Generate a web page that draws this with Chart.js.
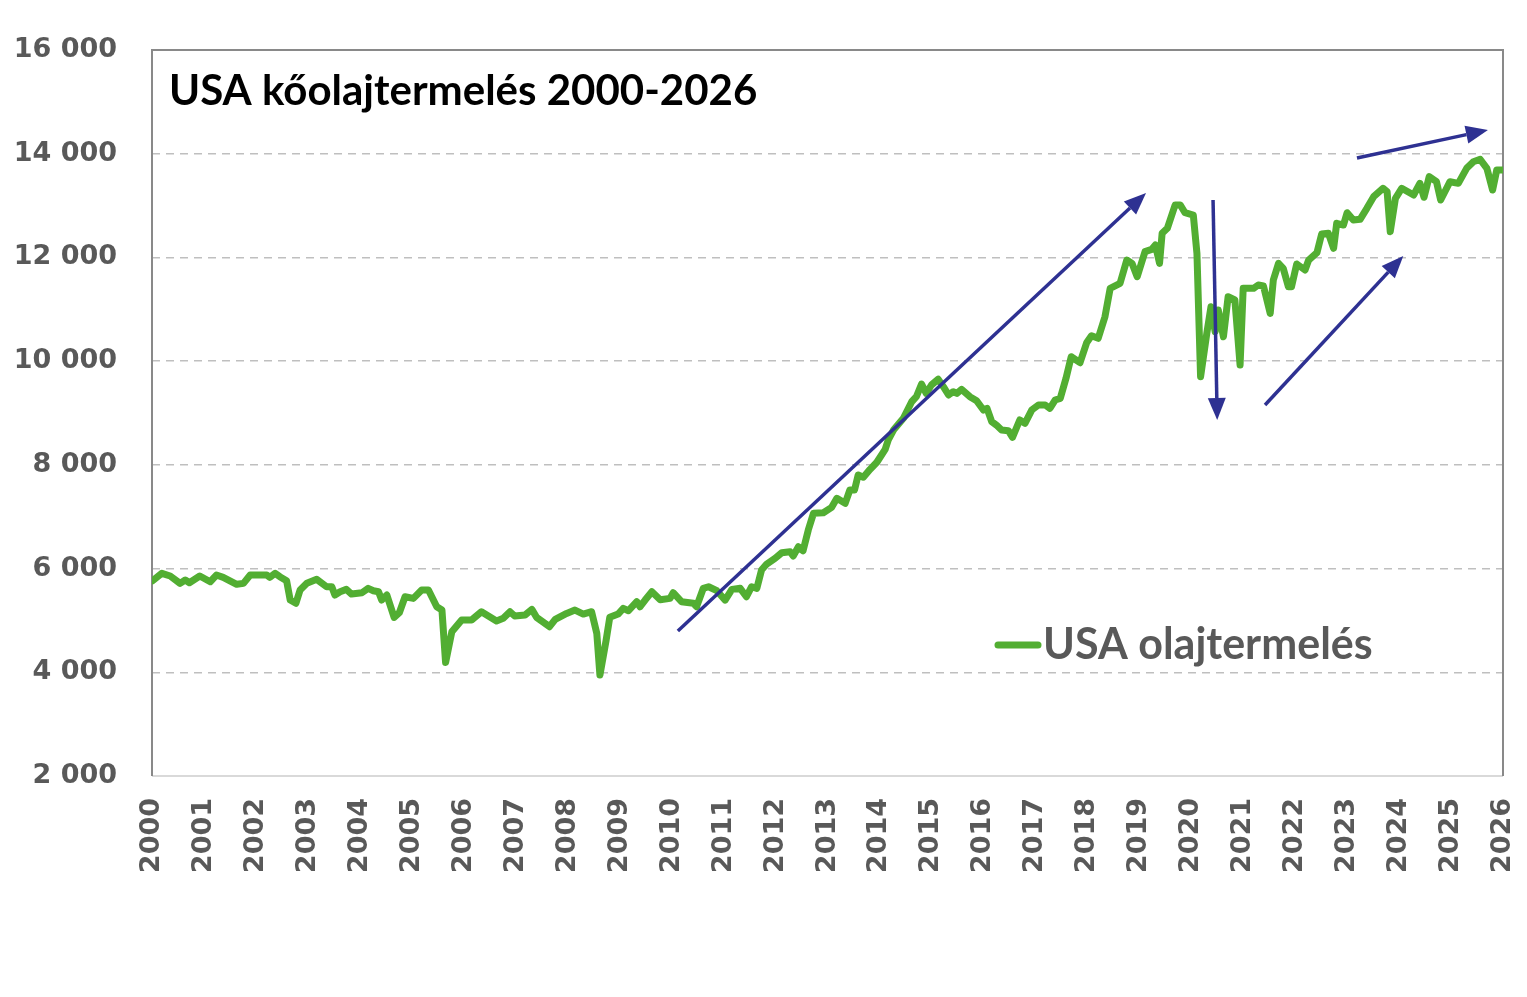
<!DOCTYPE html>
<html>
<head>
<meta charset="utf-8">
<script src="https://cdn.jsdelivr.net/npm/chart.js@4"></script>
<style>
  html, body { margin: 0; padding: 0; background: #fff; }
  canvas { display: block; }
</style>
</head>
<body>
<canvas id="oilChart" width="1527" height="997"></canvas>
<script>
// adatok (ezer hordó/nap), az ábráról leolvasva
const years = [
  2000.01, 2000.19, 2000.35, 2000.54, 2000.64, 2000.72, 2000.92, 2001.12, 2001.24, 2001.37,
  2001.63, 2001.76, 2001.89, 2002.21, 2002.27, 2002.37, 2002.46, 2002.59, 2002.66, 2002.77,
  2002.85, 2002.98, 2003.17, 2003.36, 2003.46, 2003.52, 2003.62, 2003.74, 2003.84, 2004.04,
  2004.16, 2004.26, 2004.36, 2004.42, 2004.52, 2004.66, 2004.76, 2004.87, 2005.03, 2005.19,
  2005.32, 2005.48, 2005.58, 2005.65, 2005.77, 2005.96, 2006.15, 2006.34, 2006.63, 2006.76,
  2006.89, 2006.98, 2007.18, 2007.31, 2007.40, 2007.65, 2007.76, 2007.98, 2008.14, 2008.30,
  2008.46, 2008.56, 2008.62, 2008.74, 2008.81, 2008.97, 2009.07, 2009.17, 2009.33, 2009.39,
  2009.49, 2009.62, 2009.78, 2009.97, 2010.03, 2010.19, 2010.42, 2010.48, 2010.61, 2010.71,
  2010.87, 2011.03, 2011.16, 2011.32, 2011.44, 2011.54, 2011.64, 2011.73, 2011.83, 2011.99,
  2012.12, 2012.28, 2012.34, 2012.44, 2012.53, 2012.63, 2012.73, 2012.92, 2013.08, 2013.18,
  2013.34, 2013.43, 2013.52, 2013.59, 2013.69, 2013.82, 2013.95, 2014.11, 2014.17, 2014.27,
  2014.46, 2014.62, 2014.71, 2014.81, 2014.90, 2015.00, 2015.13, 2015.23, 2015.33, 2015.42,
  2015.49, 2015.58, 2015.74, 2015.87, 2016.00, 2016.07, 2016.16, 2016.25, 2016.35, 2016.48,
  2016.56, 2016.70, 2016.80, 2016.93, 2017.06, 2017.19, 2017.28, 2017.38, 2017.48, 2017.59,
  2017.69, 2017.86, 2017.99, 2018.08, 2018.21, 2018.34, 2018.44, 2018.63, 2018.76, 2018.86,
  2018.96, 2019.11, 2019.24, 2019.31, 2019.39, 2019.44, 2019.54, 2019.69, 2019.79, 2019.88,
  2020.04, 2020.11, 2020.18, 2020.30, 2020.38, 2020.46, 2020.52, 2020.62, 2020.71, 2020.84,
  2020.94, 2021.00, 2021.20, 2021.29, 2021.39, 2021.52, 2021.58, 2021.68, 2021.77, 2021.87,
  2021.93, 2022.03, 2022.19, 2022.26, 2022.42, 2022.51, 2022.64, 2022.74, 2022.80, 2022.93,
  2023.00, 2023.12, 2023.25, 2023.38, 2023.51, 2023.69, 2023.77, 2023.83, 2023.93, 2024.05,
  2024.28, 2024.40, 2024.48, 2024.58, 2024.72, 2024.80, 2024.98, 2025.14, 2025.30, 2025.43,
  2025.56, 2025.69, 2025.80, 2025.88, 2026.00
];
const production = [
  5766, 5908, 5856, 5715, 5779, 5727, 5856, 5746, 5875, 5831,
  5696, 5715, 5875, 5875, 5831, 5908, 5843, 5766, 5393, 5330,
  5586, 5715, 5792, 5650, 5650, 5489, 5553, 5599, 5509, 5534,
  5619, 5573, 5553, 5393, 5489, 5060, 5149, 5457, 5425, 5586,
  5586, 5264, 5200, 4190, 4780, 5010, 5008, 5168, 4989, 5040,
  5168, 5085, 5104, 5213, 5060, 4879, 5021, 5136, 5200, 5123,
  5168, 4751, 3947, 4622, 5060, 5123, 5233, 5187, 5361, 5264,
  5393, 5553, 5400, 5425, 5534, 5361, 5330, 5264, 5619, 5650,
  5573, 5393, 5599, 5619, 5457, 5650, 5619, 5972, 6087, 6197,
  6306, 6325, 6242, 6421, 6344, 6743, 7065, 7077, 7181, 7354,
  7258, 7515, 7515, 7804, 7760, 7914, 8050, 8300, 8480, 8672,
  8897, 9217, 9314, 9559, 9379, 9540, 9650, 9507, 9347, 9410,
  9379, 9457, 9314, 9237, 9057, 9090, 8832, 8768, 8672, 8659,
  8531, 8865, 8801, 9057, 9154, 9154, 9090, 9250, 9283, 9669,
  10085, 9970, 10360, 10490, 10440, 10857, 11404, 11500, 11950, 11886,
  11628, 12111, 12156, 12239, 11886, 12465, 12562, 13011, 13011, 12862,
  12818, 12079, 9700, 10537, 11050, 10568, 10986, 10471, 11242, 11179,
  9925, 11404, 11404, 11468, 11449, 10922, 11564, 11886, 11790, 11436,
  11436, 11873, 11757, 11950, 12091, 12452, 12465, 12176, 12658, 12625,
  12862, 12722, 12735, 12947, 13171, 13333, 13267, 12496, 13140, 13333,
  13204, 13429, 13160, 13557, 13460, 13107, 13460, 13429, 13718, 13846,
  13892, 13718, 13300, 13686, 13686
];
const yTicks = [2000, 4000, 6000, 8000, 10000, 12000, 14000, 16000];
const xTickYears = [2000, 2001, 2002, 2003, 2004, 2005, 2006, 2007, 2008, 2009, 2010, 2011, 2012,
  2013, 2014, 2015, 2016, 2017, 2018, 2019, 2020, 2021, 2022, 2023, 2024, 2025, 2026];

const chartTitle = "USA kőolajtermelés 2000-2026";
const seriesName = "USA olajtermelés";

// nyilak: [év, érték] -> [év, érték]
const trendArrows = [
  [2010.12, 4796, 2019.13, 13242],
  [2020.42, 13107, 2020.50, 8865],
  [2021.42, 9154, 2024.08, 12027],
  [2023.19, 13917, 2025.71, 14457]
];

const GREEN = "#52ae32";
const NAVY = "#2e3192";
const GREY_TEXT = "#595959";

function fmt(v) {
  return String(v).replace(/\B(?=(\d{3})+(?!\d))/g, " ");
}

// keret a rajzterület köré
const framePlugin = {
  id: "frame",
  beforeDatasetsDraw(chart) {
    const { ctx, chartArea: a } = chart;
    ctx.save();
    ctx.lineWidth = 2;
    ctx.strokeStyle = "#d9d9d9";
    ctx.beginPath();
    ctx.moveTo(a.left, a.bottom);
    ctx.lineTo(a.right, a.bottom);
    ctx.stroke();
    ctx.strokeStyle = "#898989";
    ctx.beginPath();
    ctx.moveTo(a.left, a.bottom);
    ctx.lineTo(a.left, a.top);
    ctx.lineTo(a.right, a.top);
    ctx.lineTo(a.right, a.bottom);
    ctx.stroke();
    ctx.restore();
  }
};

const arrowPlugin = {
  id: "arrows",
  afterDatasetsDraw(chart) {
    const { ctx, scales: { x, y } } = chart;
    ctx.save();
    ctx.strokeStyle = NAVY;
    ctx.fillStyle = NAVY;
    ctx.lineWidth = 3.5;
    trendArrows.forEach(([x0, y0, x1, y1]) => {
      const px0 = x.getPixelForValue(x0), py0 = y.getPixelForValue(y0);
      const px1 = x.getPixelForValue(x1), py1 = y.getPixelForValue(y1);
      const ang = Math.atan2(py1 - py0, px1 - px0);
      const headLen = 22, headW = 9;
      const bx = px1 - headLen * Math.cos(ang), by = py1 - headLen * Math.sin(ang);
      ctx.beginPath();
      ctx.moveTo(px0, py0);
      ctx.lineTo(bx, by);
      ctx.stroke();
      ctx.beginPath();
      ctx.moveTo(px1, py1);
      ctx.lineTo(bx + headW * Math.sin(ang), by - headW * Math.cos(ang));
      ctx.lineTo(bx - headW * Math.sin(ang), by + headW * Math.cos(ang));
      ctx.closePath();
      ctx.fill();
    });
    ctx.restore();
  }
};

// cím és jelmagyarázat a rajzterületen belül
const insidePlugin = {
  id: "inside",
  afterDraw(chart) {
    const { ctx, chartArea: a } = chart;
    ctx.save();
    ctx.fillStyle = "#000";
    ctx.font = "bold 42px Lato";
    ctx.textBaseline = "alphabetic";
    ctx.textAlign = "left";
    ctx.fillText(chartTitle, a.left + 17, a.top + 55);

    const ly = a.top + 595;
    ctx.strokeStyle = GREEN;
    ctx.lineWidth = 7;
    ctx.lineCap = "round";
    ctx.beginPath();
    ctx.moveTo(a.left + 846, ly);
    ctx.lineTo(a.left + 886, ly);
    ctx.stroke();
    ctx.fillStyle = GREY_TEXT;
    ctx.font = "bold 43px Lato";
    ctx.textBaseline = "middle";
    ctx.fillText(seriesName, a.left + 891, ly);
    ctx.restore();
  }
};

function initChart() {
  const ctx = document.getElementById("oilChart");
  new Chart(ctx, {
    type: "line",
    data: {
      datasets: [{
        label: seriesName,
        data: years.map((yr, i) => ({ x: yr, y: production[i] })),
        borderColor: GREEN,
        borderWidth: 7,
        borderJoinStyle: "round",
        borderCapStyle: "round",
        pointRadius: 0,
        tension: 0,
        fill: false
      }]
    },
    options: {
      responsive: false,
      animation: false,
      devicePixelRatio: 1,
      layout: { padding: { top: 50, right: 24, left: 0, bottom: 0 } },
      plugins: {
        legend: { display: false },
        title: { display: false },
        tooltip: { enabled: false }
      },
      scales: {
        x: {
          type: "linear",
          min: 2000,
          max: 2026,
          afterBuildTicks(scale) {
            scale.ticks = xTickYears.map(v => ({ value: v }));
          },
          afterFit(scale) {
            scale.height = 221;
            scale.paddingLeft = 0;
            scale.paddingRight = 0;
          },
          grid: { display: false, drawTicks: false },
          border: { display: false },
          ticks: {
            autoSkip: false,
            minRotation: 90,
            maxRotation: 90,
            padding: 22,
            color: GREY_TEXT,
            font: { family: "DejaVu Sans", weight: "bold", size: 27 },
            callback: v => String(v)
          }
        },
        y: {
          min: 2000,
          max: 16000,
          afterBuildTicks(scale) {
            scale.ticks = yTicks.map(v => ({ value: v }));
          },
          afterFit(scale) {
            scale.width = 152;
            scale.paddingTop = 0;
            scale.paddingBottom = 0;
          },
          grid: {
            drawTicks: false,
            lineWidth: 1.5,
            color: c => (c.tick && (c.tick.value === 2000 || c.tick.value === 16000)) ? "rgba(0,0,0,0)" : "#bfbfbf"
          },
          border: { display: false, dash: [8, 6] },
          ticks: {
            padding: 35,
            color: GREY_TEXT,
            font: { family: "DejaVu Sans", weight: "bold", size: 27 },
            callback: v => fmt(v)
          }
        }
      }
    },
    plugins: [framePlugin, arrowPlugin, insidePlugin]
  });
}

window.addEventListener("load", initChart);
</script>
</body>
</html>
